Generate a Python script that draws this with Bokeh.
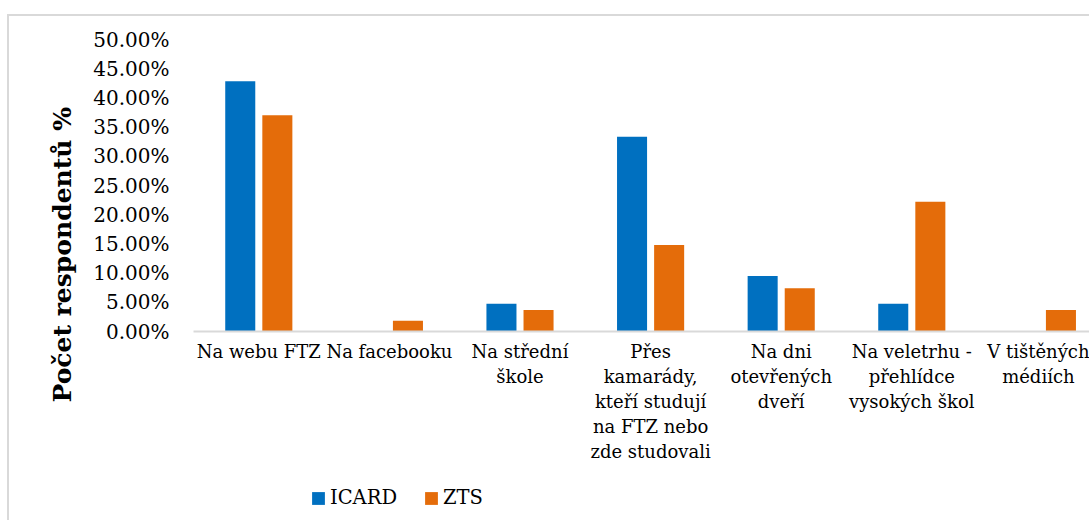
import numpy as np
from bokeh.plotting import figure
from bokeh.layouts import column
from bokeh.models import (Range1d, FixedTicker, NumeralTickFormatter, Title,
                          Legend, LegendItem)
from bokeh.embed import file_html
from bokeh.resources import INLINE

categories = ["Na webu FTZ", "Na facebooku", "Na střední\nškole",
              "Přes\nkamarády,\nkteří studují\nna FTZ nebo\nzde studovali",
              "Na dni\notevřených\ndveří",
              "Na veletrhu -\npřehlídce\nvysokých škol",
              "V tištěných\nmédiích"]
series_names = ["ICARD", "ZTS"]
icard = [0.4286, 0.0, 0.0476, 0.3333, 0.0952, 0.0476, 0.0]
zts = [0.3704, 0.0185, 0.0370, 0.1481, 0.0741, 0.2222, 0.0370]
y_ticks = [0.0, 0.05, 0.10, 0.15, 0.20, 0.25, 0.30, 0.35, 0.40, 0.45, 0.50]
y_title = "Počet respondentů %"

FONT = "DejaVu Serif"
BLUE = "#0070C0"
ORANGE = "#E46C0A"
GRAY = "#d9d9d9"

p = figure(width=1082, height=456, output_backend="svg", toolbar_location=None,
           x_range=Range1d(0, 6.876), y_range=Range1d(0, 0.5),
           min_border_left=184, min_border_right=0, min_border_top=23,
           min_border_bottom=141,
           styles={"margin-left": "7px", "margin-top": "14px",
                   "border-left": "2px solid " + GRAY,
                   "border-top": "2px solid " + GRAY})
p.outline_line_color = None
p.xgrid.visible = False
p.ygrid.visible = False

xs = np.arange(len(categories)) + 0.5
off = 0.142
bw = 0.23
r1 = p.vbar(x=xs - off, top=icard, width=bw, bottom=0, fill_color=BLUE, line_color=None)
r2 = p.vbar(x=xs + off, top=zts, width=bw, bottom=0, fill_color=ORANGE, line_color=None)

# x axis
p.xaxis.ticker = FixedTicker(ticks=list(xs))
p.xaxis.major_label_overrides = {float(x): c for x, c in zip(xs, categories)}
p.xaxis.major_tick_line_color = None
p.xaxis.minor_tick_line_color = None
p.xaxis.axis_line_color = GRAY
p.xaxis.axis_line_width = 2
p.xaxis.major_label_text_font = FONT
p.xaxis.major_label_text_font_size = "18px"
p.xaxis.major_label_text_color = "#000000"
p.xaxis.major_label_standoff = 3

# y axis
p.yaxis.ticker = FixedTicker(ticks=y_ticks)
p.yaxis.formatter = NumeralTickFormatter(format="0.00%")
p.yaxis.axis_line_color = None
p.yaxis.major_tick_line_color = None
p.yaxis.minor_tick_line_color = None
p.yaxis.major_label_text_font = FONT
p.yaxis.major_label_text_font_size = "20px"
p.yaxis.major_label_text_color = "#000000"
p.yaxis.major_label_standoff = 18

title = Title(text=y_title, align="left", offset=-71, standoff=27,
              text_font=FONT, text_font_size="25px", text_font_style="bold",
              text_color="#000000")
p.add_layout(title, "left")

# legend strip below the chart
lg = figure(width=1082, height=50, output_backend="svg", toolbar_location=None,
            x_range=Range1d(0, 1), y_range=Range1d(0, 1),
            x_axis_location=None, y_axis_location=None,
            min_border_left=0, min_border_right=0, min_border_top=0,
            min_border_bottom=0,
            styles={"margin-left": "7px", "border-left": "2px solid " + GRAY})
lg.outline_line_color = None
lg.xgrid.visible = False
lg.ygrid.visible = False
d1 = lg.vbar(x=[0.5], top=[0], width=0.01, fill_color=BLUE, line_color=None)
d2 = lg.vbar(x=[0.5], top=[0], width=0.01, fill_color=ORANGE, line_color=None)
legend = Legend(items=[LegendItem(label=series_names[0], renderers=[d1]),
                       LegendItem(label=series_names[1], renderers=[d2])],
                orientation="horizontal", location=(117, 11),
                glyph_width=16, glyph_height=16, label_standoff=4, spacing=26,
                padding=0, margin=0, border_line_color=None,
                background_fill_alpha=0,
                label_text_font=FONT, label_text_font_size="19.5px",
                label_text_color="#000000")
lg.add_layout(legend)

layout = column(p, lg, spacing=0)
open("out.html", "w").write(file_html(layout, INLINE))
